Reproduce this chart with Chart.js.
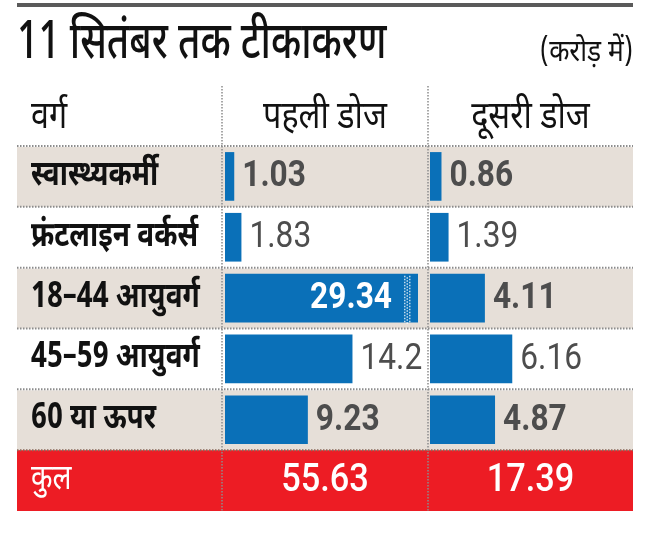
<!DOCTYPE html>
<html><head><meta charset="utf-8">
<script src="https://cdn.jsdelivr.net/npm/chart.js@4.4.0/dist/chart.umd.min.js"></script>
<style>
html,body{margin:0;padding:0;background:#fff;}
#wrap{position:relative;width:650px;height:540px;}
canvas{position:absolute;left:0;top:0;}
</style></head><body>
<div id="wrap"><canvas id="c1" width="650" height="540"></canvas><canvas id="c2" width="650" height="540"></canvas></div>
<script>
// ---- data ----
const titleText = '11 सितंबर तक टीकाकरण';
const unitText = '(करोड़ में)';
const headers = ['वर्ग', 'पहली डोज', 'दूसरी डोज'];
const categories = ['स्वास्थ्यकर्मी', 'फ्रंटलाइन वर्कर्स', '18–44 आयुवर्ग', '45–59 आयुवर्ग', '60 या ऊपर'];
const totalLabel = 'कुल';
const firstDose = [1.03, 1.83, 29.34, 14.2, 9.23];
const secondDose = [0.86, 1.39, 4.11, 6.16, 4.87];
const totals = [55.63, 17.39];
const rows = [...categories, totalLabel];

// ---- layout / style ----
const LEFT = 17, RIGHT = 633, COL1 = 222, COL2 = 428;
const BLUE = '#0a70b8', BEIGE = '#e6dfd8', RED = '#ed1c24', NUMGRAY = '#4d4d4d';
const FONT_DEV = "'Noto Sans Devanagari','Lohit Devanagari','Noto Sans',sans-serif";
const FONT_NUM = "Roboto,'Liberation Sans',sans-serif";
const NUM_SX = 0.88;

function txt(ctx, s, x, y, o) {
  ctx.save();
  ctx.font = (o.weight || 'normal') + ' ' + o.size + 'px ' + o.family;
  ctx.fillStyle = o.color;
  ctx.textBaseline = 'middle';
  ctx.textAlign = o.align || 'left';
  ctx.translate(x, y);
  ctx.scale(o.sx || 1, 1);
  ctx.fillText(s, 0, 0);
  ctx.restore();
}
function dottedH(ctx, x1, x2, y, color) {
  ctx.save();
  ctx.strokeStyle = color; ctx.lineWidth = 2; ctx.setLineDash([1.5, 1.5]);
  ctx.beginPath(); ctx.moveTo(x1, y); ctx.lineTo(x2, y); ctx.stroke();
  ctx.restore();
}
function dottedV(ctx, x, y1, y2, color) {
  ctx.save();
  ctx.strokeStyle = color; ctx.lineWidth = 1.5; ctx.setLineDash([1.5, 1.5]);
  ctx.beginPath(); ctx.moveTo(x, y1); ctx.lineTo(x, y2); ctx.stroke();
  ctx.restore();
}

const tablePlugin = {
  id: 'table',
  beforeDatasetsDraw(chart) {
    const ctx = chart.ctx, ys = chart.scales.y;
    const n = rows.length, pitch = (ys.bottom - ys.top) / n;
    // top rule
    ctx.save(); ctx.fillStyle = '#5a5a5a'; ctx.fillRect(LEFT, 3, RIGHT - LEFT, 4); ctx.restore();
    txt(ctx, titleText, LEFT, 48, {size: 52, weight: '500', family: FONT_DEV, color: '#111', sx: 0.74});
    txt(ctx, unitText, RIGHT, 55, {size: 31, family: FONT_DEV, color: '#111', align: 'right', sx: 0.85});
    // header
    const hd = {size: 38, family: FONT_DEV, color: '#111', sx: 0.85};
    txt(ctx, headers[0], 31, 121, hd);
    txt(ctx, headers[1], (COL1 + COL2) / 2, 121, Object.assign({align: 'center'}, hd));
    txt(ctx, headers[2], (COL2 + RIGHT) / 2, 121, Object.assign({align: 'center'}, hd));
    // rows
    rows.forEach((lab, i) => {
      const c = ys.getPixelForValue(i), top = c - pitch / 2;
      ctx.save();
      if (i === n - 1) { ctx.fillStyle = RED; ctx.fillRect(LEFT, top, RIGHT - LEFT, pitch); }
      else if (i % 2 === 0) { ctx.fillStyle = BEIGE; ctx.fillRect(LEFT, top + 1, RIGHT - LEFT, pitch - 1); }
      ctx.restore();
      dottedH(ctx, LEFT, RIGHT, top, i === n - 1 ? '#8a6a5a' : '#8c8c8c');
      txt(ctx, lab, 31, c + 2, {size: 35, weight: i === n - 1 ? 'normal' : 'bold', family: FONT_DEV,
        color: i === n - 1 ? '#fff' : '#111', sx: 0.8});
    });
    dottedV(ctx, COL1, 86, ys.bottom, '#8c8c8c');
    dottedV(ctx, COL2, 86, ys.bottom, '#8c8c8c');
  }
};

function makeLabels(values, total, center) {
  return {
    id: 'vals',
    afterDatasetsDraw(chart) {
      const ctx = chart.ctx, ys = chart.scales.y, xs = chart.scales.x, area = chart.chartArea;
      chart.getDatasetMeta(0).data.forEach((bar, i) => {
        const v = values[i];
        if (v == null) return;
        const bold = i % 2 === 0;
        if (v > xs.max) {
          const end = area.right;
          ctx.save();
          ctx.fillStyle = 'rgba(255,255,255,0.75)';
          for (let yy = bar.y - bar.height / 2 + 2; yy < bar.y + bar.height / 2 - 1; yy += 3) {
            ctx.fillRect(end - 14, yy, 1.5, 1.5);
            ctx.fillRect(end - 11.5, yy + 1.5, 1.5, 1.5);
            ctx.fillRect(end - 9, yy, 1.5, 1.5);
          }
          ctx.restore();
          txt(ctx, v.toString(), end - 26, bar.y + 1, {size: 36, weight: 'bold', family: FONT_NUM, color: '#fff', align: 'right', sx: NUM_SX});
        } else {
          txt(ctx, v.toString(), bar.x + 8, bar.y + 1, {size: 36, weight: bold ? 'bold' : 'normal', family: FONT_NUM, color: NUMGRAY, sx: NUM_SX});
        }
      });
      txt(ctx, total.toString(), center, ys.getPixelForValue(rows.length - 1) + 1,
        {size: 39, weight: '500', family: FONT_NUM, color: '#fff', align: 'center', sx: 0.88});
    }
  };
}

function makeChart(id, values, max, padL, padR, plugins) {
  return new Chart(document.getElementById(id), {
    type: 'bar',
    data: {labels: rows, datasets: [{data: [...values, null], backgroundColor: BLUE, borderWidth: 0,
      barPercentage: 0.8, categoryPercentage: 1, clip: 0}]},
    options: {
      indexAxis: 'y', responsive: false, animation: false, events: [],
      layout: {padding: {left: padL, right: padR, top: 146, bottom: 540 - 511}},
      scales: {x: {display: false, min: 0, max: max}, y: {display: false}},
      plugins: {legend: {display: false}, tooltip: {enabled: false}}
    },
    plugins: plugins
  });
}

makeChart('c1', firstDose, 21.5, 225, 650 - 418, [tablePlugin, makeLabels(firstDose, totals[0], (COL1 + COL2) / 2)]);
makeChart('c2', secondDose, 15.2, 430, 650 - RIGHT, [makeLabels(secondDose, totals[1], (COL2 + RIGHT) / 2)]);
</script>
</body></html>
